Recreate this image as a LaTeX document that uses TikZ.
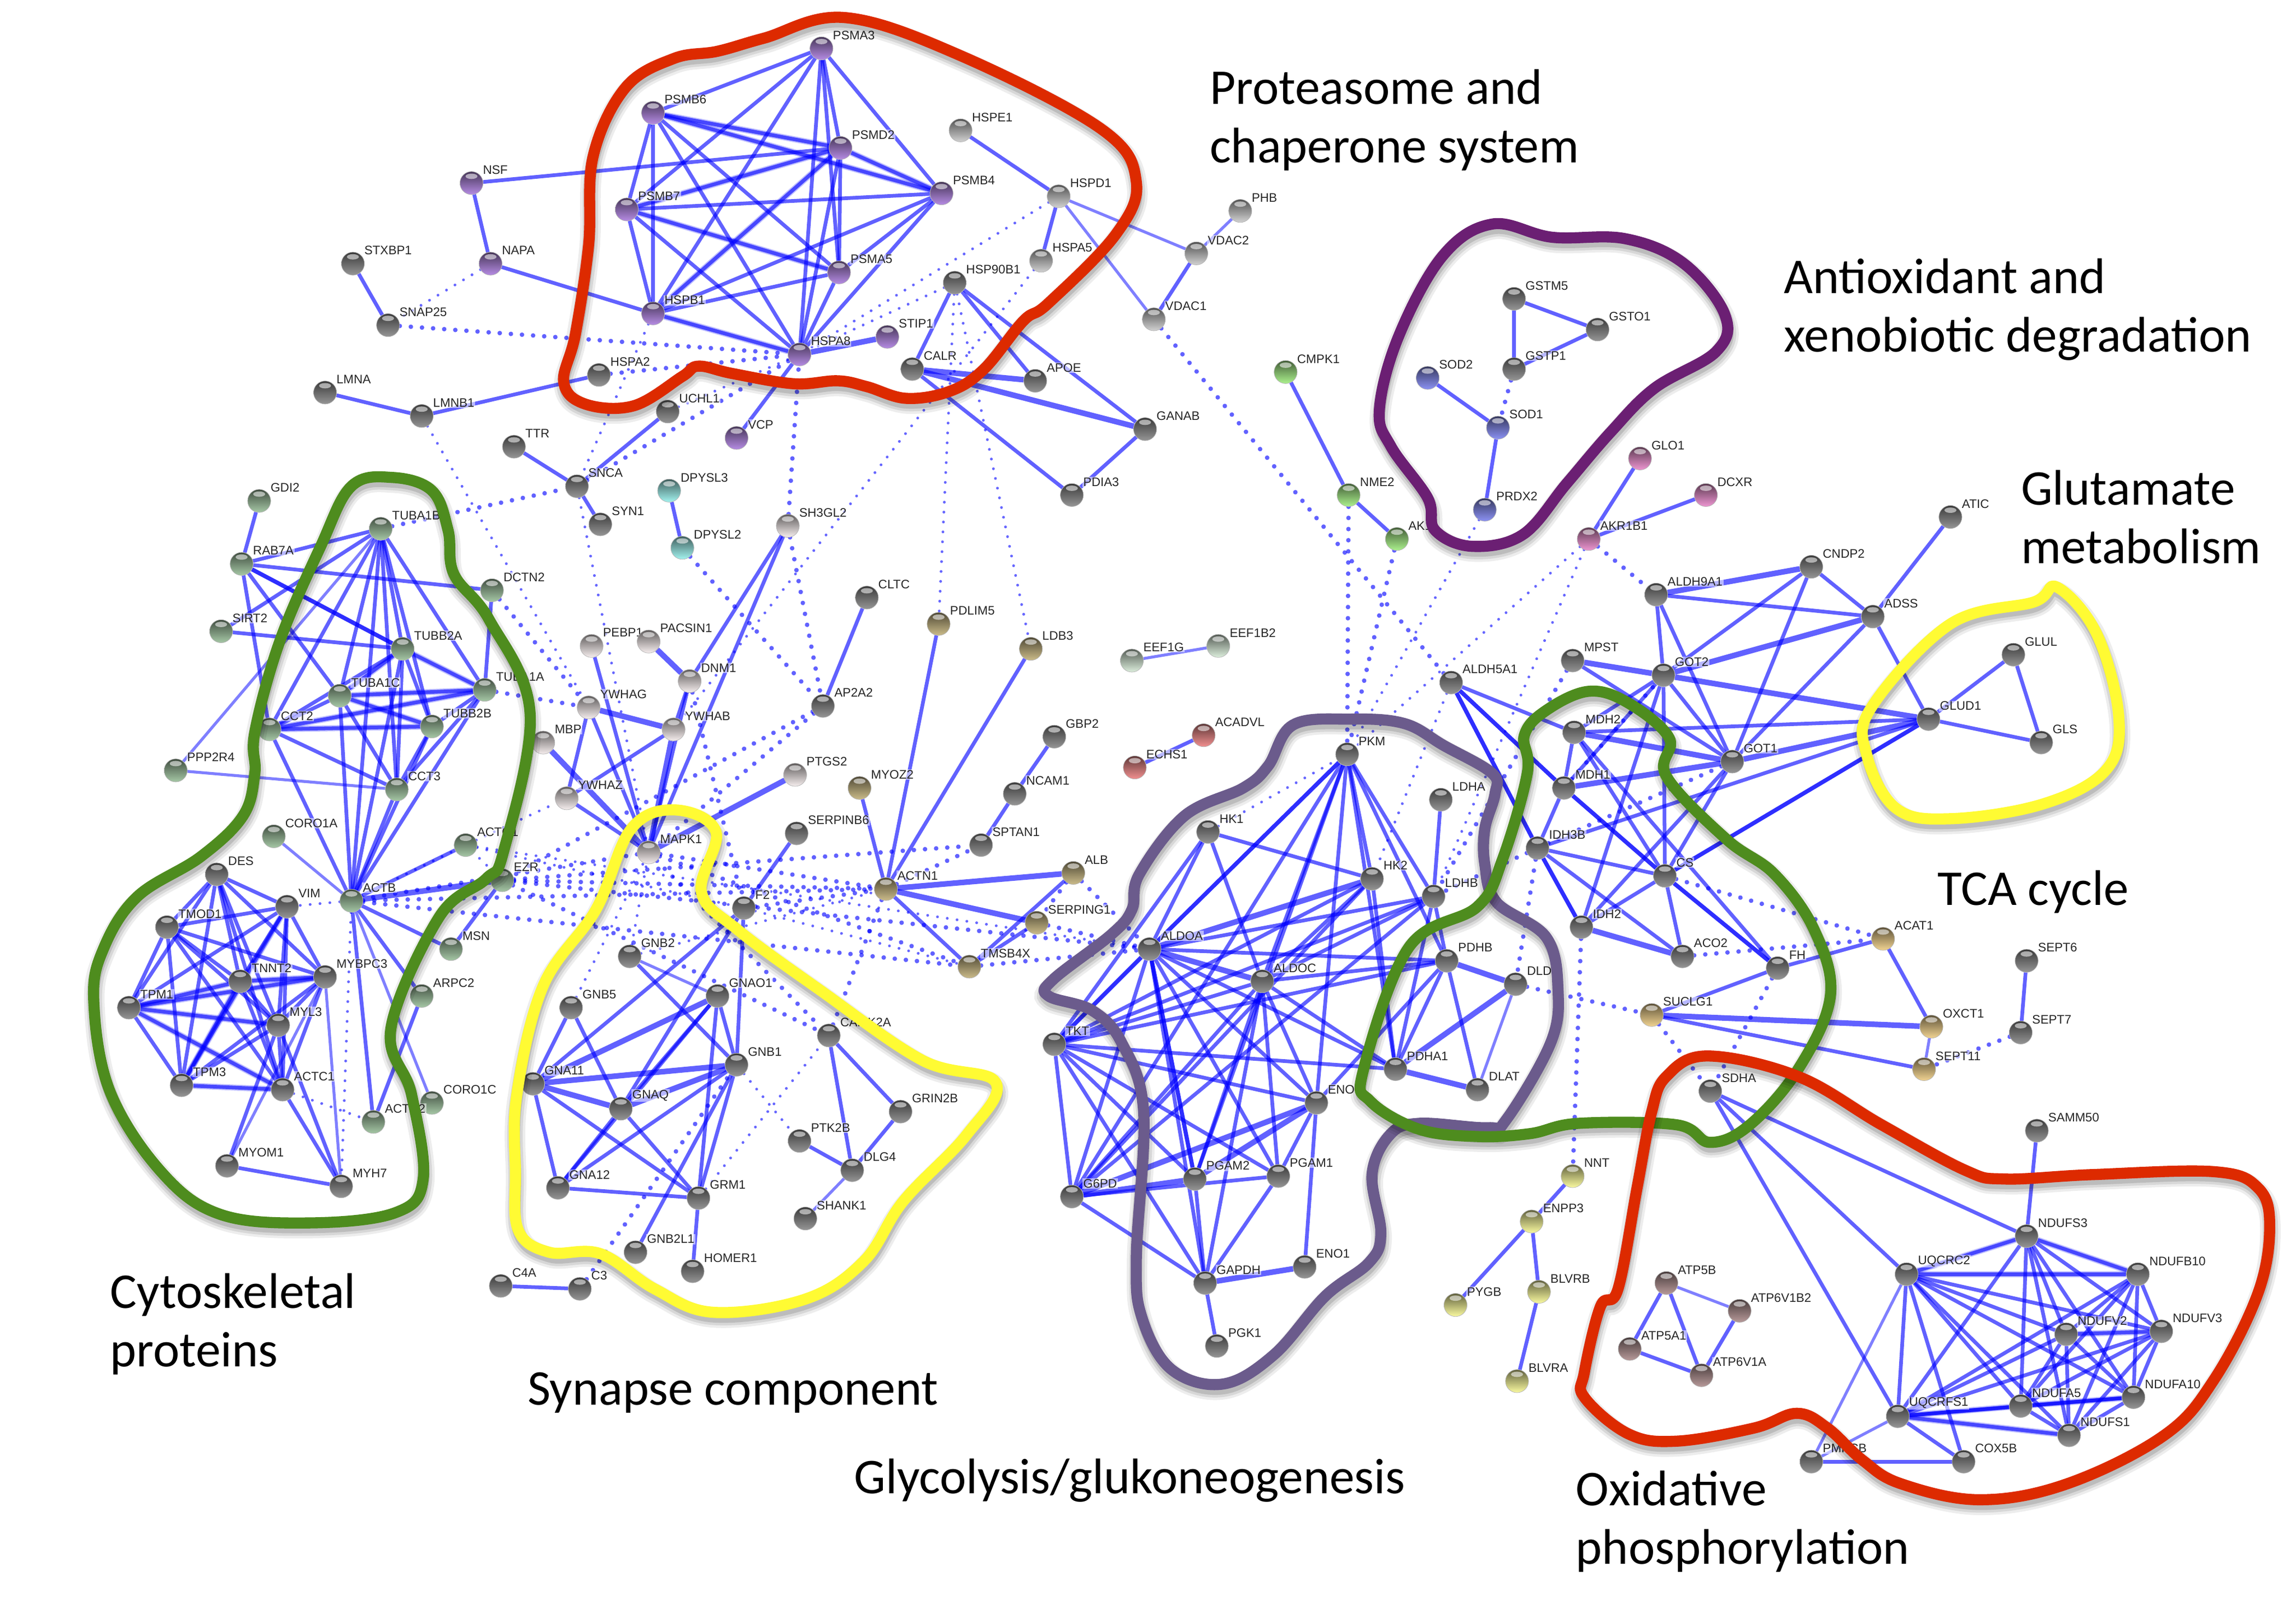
\documentclass[tikz,border=0pt]{standalone}
\usepackage{fontspec}
\setmainfont{Liberation Sans}
\newfontfamily\titlefont{Carlito}
\definecolor{cgray}{HTML}{969696}
\definecolor{clgray}{HTML}{D2D2D2}
\definecolor{cpur}{HTML}{B68CE4}
\definecolor{cgrn}{HTML}{A6C8A6}
\definecolor{cpink}{HTML}{EE96D2}
\definecolor{cblu}{HTML}{8C92F4}
\definecolor{ccy}{HTML}{A4F4F0}
\definecolor{clime}{HTML}{ACF28E}
\definecolor{cpale}{HTML}{F6EEEE}
\definecolor{ctan}{HTML}{CCBC8A}
\definecolor{cor}{HTML}{F2D492}
\definecolor{cyel}{HTML}{FAFAA0}
\definecolor{cred}{HTML}{F29090}
\definecolor{cbrn}{HTML}{B89A9A}
\definecolor{cmint}{HTML}{DCEEDC}
\definecolor{hred}{HTML}{DD2A00}
\definecolor{hgrn}{HTML}{4E8C1E}
\definecolor{hyel}{HTML}{FFFB33}
\definecolor{hpur}{HTML}{6B1F73}
\definecolor{hgly}{HTML}{6B5B8C}
\pgfdeclarelayer{edges}
\pgfdeclarelayer{hulls}
\pgfsetlayers{edges,main,hulls}
\tikzset{
  orb/.style={circle,minimum size=11.2pt,inner sep=0pt,draw=black!30,line width=.2pt,
    top color=#1!38!black,bottom color=#1,
    path picture={\fill[white,opacity=.55] ([yshift=-2.3pt]path picture bounding box.north) ellipse (2.9pt and 1.3pt);}},
  lab/.style={anchor=west,inner sep=.4pt,fill=white,fill opacity=.55,text opacity=1,text=black!85,
    font=\fontsize{6}{6.5}\selectfont},
  edgeA/.style={draw=blue,opacity=.5,line width=1.4pt},
  edgeB/.style={draw=blue,opacity=.62,line width=1.8pt},
  edgeC/.style={draw=blue,opacity=.62,line width=2.7pt},
  edgeD/.style={draw=blue,opacity=.82,line width=2pt},
  edgeO/.style={draw=blue,opacity=.26,line width=2.9pt},
  dotA/.style={draw=blue,opacity=.6,line width=1.35pt,line cap=round,dash pattern=on 0.01pt off 4.8pt},
  dotB/.style={draw=blue,opacity=.62,line width=2.2pt,line cap=round,dash pattern=on 0.01pt off 5.4pt},
  ttl/.style={anchor=west,align=left,inner sep=0pt,text=black,font=\titlefont\fontsize{24.3}{28.4}\selectfont},
  hullline/.style={line width=5.4pt,line join=round},
}
\newcommand\pn[4]{\node[orb=#4] (#1) at (#2,#3) {};\node[lab] (#1-t) at (#2+7,#3-9) {#1};}
\newcommand\ee[2]{\foreach \a/\b in {#2} \draw[#1] (\a) -- (\b);}
\newcommand\cl[2]{\foreach \a [count=\i] in {#2} {\foreach \b [count=\j] in {#2} {\ifnum\i<\j \draw[#1] (\a) -- (\b);\fi}}}
\newcommand\hull[2]{%
  \foreach \w/\o in {10pt/.07,7.5pt/.09,5pt/.12}
    \draw[black,opacity=\o,line width=\w,shift={(.5,3.5)}] plot[smooth cycle,tension=.62] coordinates {#2};
  \draw[#1,hullline] plot[smooth cycle,tension=.62] coordinates {#2};}
\begin{document}
\begin{tikzpicture}[x=0.025cm,y=-0.025cm]
\useasboundingbox (0,0) rectangle (1568,1101.3);
\begin{pgfonlayer}{edges}\fill[white] (0,0) rectangle (1568,1101.3);\end{pgfonlayer}
% --- proteasome
\pn{PSMA3}{561}{33}{cpur}\pn{PSMB6}{446}{77}{cpur}\pn{PSMD2}{574}{101}{cpur}\pn{PSMB4}{643}{132}{cpur}
\pn{PSMB7}{428}{143}{cpur}\pn{PSMA5}{573}{186}{cpur}\pn{HSPB1}{446}{214}{cpur}\pn{HSPA8}{546}{242}{cpur}
\pn{STIP1}{606}{230}{cpur}\pn{NSF}{322}{125}{cpur}\pn{NAPA}{335}{180}{cpur}\pn{VCP}{503}{299}{cpur}
\pn{HSPE1}{656}{89}{clgray}\pn{HSPD1}{723}{134}{clgray}\pn{HSPA5}{711}{178}{clgray}\pn{PHB}{847}{144}{clgray}
\pn{VDAC2}{817}{173}{clgray}\pn{VDAC1}{788}{218}{clgray}
\pn{STXBP1}{241}{180}{cgray}\pn{SNAP25}{265}{222}{cgray}\pn{HSPA2}{409}{256}{cgray}\pn{LMNA}{222}{268}{cgray}
\pn{LMNB1}{288}{284}{cgray}\pn{UCHL1}{456}{281}{cgray}\pn{TTR}{351}{305}{cgray}\pn{SNCA}{394}{332}{cgray}
\pn{SYN1}{410}{358}{cgray}\pn{DPYSL3}{457}{335}{ccy}\pn{DPYSL2}{466}{374}{ccy}
\pn{HSP90B1}{652}{193}{cgray}\pn{CALR}{623}{252}{cgray}\pn{APOE}{707}{260}{cgray}\pn{GANAB}{782}{293}{cgray}
\pn{PDIA3}{732}{338}{cgray}\pn{SH3GL2}{538}{359}{cpale}
\pn{CMPK1}{878}{254}{clime}\pn{NME2}{921}{338}{clime}\pn{AK1}{954}{368}{clime}
\pn{GSTM5}{1034}{204}{cgray}\pn{GSTO1}{1091}{225}{cgray}\pn{GSTP1}{1034}{252}{cgray}
\pn{SOD2}{975}{258}{cblu}\pn{SOD1}{1023}{292}{cblu}\pn{PRDX2}{1014}{348}{cblu}
\pn{GLO1}{1120}{313}{cpink}\pn{DCXR}{1165}{338}{cpink}\pn{AKR1B1}{1085}{368}{cpink}
% --- right metabolism
\pn{ALDH9A1}{1131}{406}{cgray}\pn{CNDP2}{1237}{387}{cgray}\pn{ATIC}{1332}{353}{cgray}\pn{ADSS}{1279}{421}{cgray}
\pn{MPST}{1074}{451}{cgray}\pn{GOT2}{1136}{461}{cgray}\pn{MDH2}{1075}{500}{cgray}\pn{MDH1}{1068}{538}{cgray}
\pn{GOT1}{1183}{520}{cgray}\pn{GLUD1}{1317}{491}{cgray}\pn{GLUL}{1375}{447}{cgray}\pn{GLS}{1394}{507}{cgray}
\pn{ALDH5A1}{991}{466}{cgray}
\pn{IDH3B}{1050}{579}{cgray}\pn{CS}{1137}{598}{cgray}\pn{IDH2}{1080}{633}{cgray}\pn{ACO2}{1149}{653}{cgray}
\pn{FH}{1214}{661}{cgray}\pn{SUCLG1}{1128}{693}{cor}\pn{ACAT1}{1286}{641}{cor}\pn{OXCT1}{1319}{701}{cor}
\pn{SEPT11}{1314}{730}{cor}\pn{SEPT6}{1384}{656}{cgray}\pn{SEPT7}{1380}{705}{cgray}
% --- glycolysis
\pn{DLD}{1035}{672}{cgray}\pn{PDHB}{988}{656}{cgray}\pn{LDHB}{979}{612}{cgray}\pn{LDHA}{984}{546}{cgray}
\pn{PKM}{920}{515}{cgray}\pn{HK1}{825}{568}{cgray}\pn{HK2}{937}{600}{cgray}\pn{ALDOA}{785}{648}{cgray}
\pn{ALDOC}{862}{670}{cgray}\pn{TKT}{720}{713}{cgray}\pn{PDHA1}{953}{730}{cgray}\pn{DLAT}{1009}{744}{cgray}
\pn{ENO3}{899}{753}{cgray}\pn{PGAM2}{816}{805}{cgray}\pn{PGAM1}{873}{803}{cgray}\pn{G6PD}{732}{817}{cgray}
\pn{GAPDH}{823}{876}{cgray}\pn{ENO1}{891}{865}{cgray}\pn{PGK1}{831}{919}{cgray}
\pn{NNT}{1074}{803}{cyel}\pn{ENPP3}{1046}{834}{cyel}\pn{BLVRB}{1051}{882}{cyel}\pn{BLVRA}{1036}{943}{cyel}\pn{PYGB}{994}{891}{cyel}
% --- oxphos
\pn{SDHA}{1168}{745}{cgray}\pn{SAMM50}{1391}{772}{cgray}\pn{NDUFS3}{1384}{844}{cgray}\pn{UQCRC2}{1302}{870}{cgray}
\pn{NDUFB10}{1460}{870}{cgray}\pn{NDUFV2}{1411}{911}{cgray}\pn{NDUFV3}{1476}{909}{cgray}\pn{UQCRFS1}{1296}{967}{cgray}
\pn{NDUFA5}{1380}{960}{cgray}\pn{NDUFA10}{1457}{954}{cgray}\pn{NDUFS1}{1413}{980}{cgray}\pn{COX5B}{1341}{998}{cgray}
\pn{PMPCB}{1237}{998}{cgray}\pn{ATP5B}{1138}{876}{cbrn}\pn{ATP6V1B2}{1188}{895}{cbrn}\pn{ATP5A1}{1113}{921}{cbrn}\pn{ATP6V1A}{1162}{939}{cbrn}
% --- cytoskeleton
\pn{GDI2}{177}{342}{cgrn}\pn{TUBA1B}{260}{361}{cgrn}\pn{RAB7A}{165}{385}{cgrn}\pn{DCTN2}{336}{403}{cgrn}
\pn{SIRT2}{151}{431}{cgrn}\pn{TUBB2A}{275}{443}{cgrn}\pn{TUBA1A}{331}{471}{cgrn}\pn{TUBA1C}{232}{475}{cgrn}
\pn{TUBB2B}{295}{496}{cgrn}\pn{CCT2}{184}{498}{cgrn}\pn{PPP2R4}{120}{526}{cgrn}\pn{CCT3}{271}{539}{cgrn}
\pn{CORO1A}{187}{571}{cgrn}\pn{ACTG1}{318}{577}{cgrn}\pn{EZR}{343}{601}{cgrn}\pn{ACTB}{240}{615}{cgrn}
\pn{MSN}{308}{648}{cgrn}\pn{ARPC2}{288}{680}{cgrn}\pn{CORO1C}{295}{753}{cgrn}\pn{ACTN2}{255}{766}{cgrn}
\pn{DES}{148}{597}{cgray}\pn{VIM}{196}{619}{cgray}\pn{TMOD1}{114}{633}{cgray}\pn{TNNT2}{164}{670}{cgray}
\pn{MYBPC3}{222}{667}{cgray}\pn{TPM1}{88}{688}{cgray}\pn{MYL3}{190}{700}{cgray}\pn{TPM3}{124}{741}{cgray}
\pn{ACTC1}{193}{744}{cgray}\pn{MYOM1}{155}{796}{cgray}\pn{MYH7}{233}{810}{cgray}
% --- centre
\pn{YWHAG}{402}{483}{cpale}\pn{PEBP1}{404}{441}{cpale}\pn{PACSIN1}{443}{438}{cpale}\pn{DNM1}{471}{465}{cpale}
\pn{MBP}{371}{507}{cpale}\pn{YWHAB}{460}{498}{cpale}\pn{YWHAZ}{387}{545}{cpale}\pn{MAPK1}{443}{582}{cpale}
\pn{PTGS2}{543}{529}{cpale}\pn{CLTC}{592}{408}{cgray}\pn{AP2A2}{562}{482}{cgray}\pn{F2}{508}{620}{cgray}
\pn{SERPINB6}{544}{569}{cgray}\pn{GNB2}{430}{653}{cgray}\pn{GNB5}{390}{688}{cgray}\pn{GNAO1}{490}{680}{cgray}
\pn{GNB1}{503}{727}{cgray}\pn{GNA11}{364}{740}{cgray}\pn{GNAQ}{424}{757}{cgray}\pn{GNA12}{381}{811}{cgray}
\pn{GRM1}{477}{818}{cgray}\pn{GNB2L1}{434}{855}{cgray}\pn{HOMER1}{473}{868}{cgray}\pn{C3}{396}{880}{cgray}
\pn{C4A}{342}{878}{cgray}\pn{CAMK2A}{566}{707}{cgray}\pn{GRIN2B}{615}{759}{cgray}\pn{PTK2B}{546}{779}{cgray}
\pn{DLG4}{582}{799}{cgray}\pn{SHANK1}{550}{832}{cgray}\pn{MYOZ2}{587}{538}{ctan}\pn{PDLIM5}{641}{426}{ctan}
\pn{LDB3}{704}{443}{ctan}\pn{ACTN1}{605}{607}{ctan}\pn{NCAM1}{693}{542}{cgray}\pn{SPTAN1}{670}{577}{cgray}
\pn{GBP2}{720}{503}{cgray}\pn{ALB}{733}{596}{ctan}\pn{SERPING1}{708}{630}{ctan}\pn{TMSB4X}{662}{660}{ctan}
\pn{EEF1G}{773}{451}{cmint}\pn{EEF1B2}{832}{441}{cmint}\pn{ECHS1}{775}{524}{cred}\pn{ACADVL}{822}{502}{cred}

\begin{pgfonlayer}{edges}
% proteasome
\cl{edgeB}{PSMA3,PSMB6,PSMD2,PSMB4,PSMB7,PSMA5,HSPB1,HSPA8}
\ee{edgeO}{PSMB6/PSMD2,PSMB6/PSMB4,PSMD2/PSMB4,PSMB7/PSMA5,HSPB1/HSPA8,HSPB1/PSMD2,PSMB7/PSMD2}
\ee{edgeC}{HSPA8/STIP1,CALR/APOE,CALR/GANAB}
\ee{edgeB}{NSF/PSMD2,NSF/NAPA,NAPA/HSPB1,STXBP1/SNAP25,LMNA/LMNB1,LMNB1/HSPA2,UCHL1/SNCA,TTR/SNCA,SNCA/SYN1,
  DPYSL3/DPYSL2,VCP/HSPA8,HSPE1/HSPD1,HSPD1/HSPA5,VDAC2/VDAC1,HSP90B1/CALR,HSP90B1/APOE,HSP90B1/GANAB,CALR/PDIA3,GANAB/PDIA3,
  CMPK1/NME2,NME2/AK1,GSTM5/GSTO1,GSTM5/GSTP1,GSTP1/GSTO1,SOD2/SOD1,SOD1/PRDX2,AKR1B1/GLO1,AKR1B1/DCXR}
\ee{edgeA}{HSPD1/VDAC2,HSPD1/VDAC1,VDAC2/PHB}
\ee{dotA}{NAPA/SNAP25,HSPB1/SNCA,HSPD1/HSPA8,UCHL1/HSPA8,LMNB1/YWHAG,SNCA/MAPK1,HSPA5/YWHAB,HSP90B1/PDLIM5,HSP90B1/LDB3,HSP90B1/HSPA8,
  PRDX2/PKM,AKR1B1/PKM,AKR1B1/LDHB,HK1/PKM,ALDH5A1/HK2}
\ee{dotB}{SNAP25/HSPA8,HSPA2/HSPA8,SNCA/HSPA8,TUBA1B/SNCA,DPYSL2/AP2A2,SH3GL2/AP2A2,SH3GL2/HSPA8,VDAC1/ALDH5A1,NME2/PKM,AK1/PKM,GSTP1/SOD1,AKR1B1/ALDH9A1,MPST/LDHB}
% glutamate / TCA
\ee{edgeB}{ATIC/ADSS,CNDP2/ADSS,ALDH9A1/ADSS,ALDH9A1/GOT2,ALDH9A1/GOT1,CNDP2/GOT2,CNDP2/GOT1,ADSS/GOT1,ADSS/GLUD1,MPST/GOT1,
  GOT2/MDH2,GOT2/MDH1,GOT2/GOT1,GOT2/CS,MDH2/GLUD1,MDH2/MDH1,MDH2/CS,MDH2/FH,MDH1/IDH3B,GOT1/IDH2,GOT1/CS,IDH3B/GLUD1,GLUD1/GLUL,GLUD1/GLS,GLUL/GLS,
  IDH3B/CS,IDH3B/ACO2,IDH2/CS,IDH2/GOT2,CS/ACO2,SUCLG1/FH,ACAT1/OXCT1,ACAT1/FH,SUCLG1/SEPT11,SEPT6/SEPT7,ALDH5A1/MDH2}
\ee{edgeC}{ALDH9A1/CNDP2,ADSS/GOT2,MPST/GOT2,GOT2/GLUD1,MDH2/GOT1,MDH1/GOT1,GOT1/GLUD1,IDH2/ACO2,SUCLG1/OXCT1}
\ee{edgeD}{MDH1/CS,CS/GLUD1,IDH3B/IDH2,CS/FH,ALDH5A1/MDH1,ALDH5A1/IDH3B}
\ee{edgeA}{OXCT1/SEPT11}
\ee{dotB}{IDH2/NNT,DLD/SUCLG1,IDH3B/DLD,FH/SDHA,SUCLG1/SDHA,GOT1/IDH3B,ACO2/ACAT1,CS/ACAT1,SEPT7/SEPT11,MDH1/GOT2,IDH3B/LDHB}
% glycolysis
\ee{edgeD}{PKM/ALDOA,ALDOA/TKT,ALDOA/PGAM2}
\ee{edgeB}{PKM/PGAM2,PKM/ALDOC,PKM/ENO3,PKM/HK2,PKM/LDHB,PKM/PDHB,PKM/G6PD,PKM/PDHA1,HK1/ALDOA,HK1/ALDOC,HK1/HK2,HK1/TKT,HK2/ALDOC,HK2/TKT,HK2/G6PD,HK2/PDHA1,
  LDHB/ALDOA,LDHB/ALDOC,LDHB/TKT,LDHB/G6PD,LDHA/LDHB,LDHB/PDHB,LDHB/PDHA1,ALDOA/G6PD,ALDOA/PGAM1,ALDOA/ENO3,ALDOA/GAPDH,ALDOA/PDHB,ALDOA/PDHA1,
  ALDOC/TKT,ALDOC/G6PD,ALDOC/PGAM2,ALDOC/PGAM1,ALDOC/ENO3,ALDOC/GAPDH,ALDOC/PDHB,ALDOC/PDHA1,TKT/G6PD,TKT/PDHA1,TKT/ENO3,TKT/PGAM2,TKT/PGAM1,TKT/GAPDH,TKT/PDHB,
  G6PD/PGAM1,G6PD/GAPDH,PGAM1/ENO3,PGAM2/GAPDH,PGAM1/GAPDH,GAPDH/PGK1,ENO1/ENO3,PDHA1/PDHB,PDHB/DLAT,PDHB/ENO3}
\ee{edgeC}{HK2/ALDOA,ALDOA/ALDOC,G6PD/ENO3,G6PD/PGAM2,PGAM2/ENO3,GAPDH/ENO1,PDHA1/DLAT,PDHA1/DLD,PDHB/DLD}
\ee{edgeA}{DLD/DLAT}
\ee{edgeB}{NNT/ENPP3,ENPP3/PYGB,ENPP3/BLVRB,BLVRB/BLVRA}
% oxphos
\cl{edgeB}{NDUFS3,UQCRC2,NDUFB10,NDUFV2,NDUFV3,UQCRFS1,NDUFA5,NDUFA10,NDUFS1}
\ee{edgeO}{UQCRFS1/NDUFA5,NDUFA5/NDUFA10,UQCRFS1/NDUFS1,UQCRC2/NDUFB10,UQCRC2/NDUFS3,NDUFV2/NDUFV3,NDUFS3/NDUFB10}
\ee{edgeB}{UQCRFS1/COX5B,UQCRC2/COX5B,PMPCB/COX5B,SDHA/UQCRFS1,SDHA/UQCRC2,SDHA/NDUFS3,NDUFS3/SAMM50,ATP5B/ATP5A1,ATP5B/ATP6V1A,ATP6V1B2/ATP6V1A,ATP5A1/ATP6V1A}
\ee{edgeA}{UQCRFS1/PMPCB,UQCRC2/PMPCB,ATP5B/ATP6V1B2}
% cytoskeleton upper
\cl{edgeB}{TUBA1B,TUBB2A,TUBA1A,TUBA1C,TUBB2B,CCT2,CCT3}
\ee{edgeO}{TUBA1C/TUBA1A,CCT2/TUBB2B,TUBA1C/TUBB2B,TUBB2A/TUBA1C,CCT2/TUBA1A,TUBB2A/TUBA1A}
\ee{edgeC}{ACTB/EZR}
\ee{edgeD}{RAB7A/TUBB2A}
\ee{edgeB}{GDI2/RAB7A,RAB7A/TUBA1B,RAB7A/DCTN2,RAB7A/TUBA1C,RAB7A/CCT2,SIRT2/TUBA1B,SIRT2/TUBB2A,DCTN2/TUBA1A,TUBA1B/ACTB,CCT2/ACTB,TUBB2B/ACTB,
  TUBA1A/ACTB,TUBA1C/ACTB,TUBB2A/ACTB,CCT3/ACTB,ACTB/ACTG1,ACTB/MSN,ACTB/ARPC2,ACTB/ACTN2,EZR/MSN,ARPC2/ACTN2}
\ee{edgeA}{PPP2R4/TUBA1B,PPP2R4/CCT3,ACTB/CORO1A,ACTB/CORO1C}
% cytoskeleton lower
\cl{edgeB}{DES,VIM,TMOD1,TNNT2,MYBPC3,TPM1,MYL3,TPM3,ACTC1}
\ee{edgeO}{TPM1/TNNT2,TPM1/MYBPC3,TNNT2/MYBPC3,TPM1/MYL3,TPM1/ACTC1,TPM3/TNNT2,TPM3/ACTC1,TPM3/VIM}
\ee{edgeB}{MYL3/MYH7,ACTC1/MYH7,MYOM1/MYH7,MYOM1/MYL3}
\ee{edgeA}{MYOM1/MYBPC3,MYBPC3/MYH7}
\ee{dotA}{ACTB/MYH7,ACTC1/ACTN2,ACTB/VIM,ACTB/ACTG1,ACTG1/YWHAZ}
% centre
\ee{edgeC}{YWHAG/YWHAB,YWHAB/MAPK1,PTGS2/MAPK1,MBP/MAPK1,PACSIN1/DNM1,ACTN1/ALB}
\ee{edgeB}{YWHAG/YWHAZ,YWHAG/MAPK1,YWHAB/YWHAZ,YWHAZ/MAPK1,DNM1/YWHAB,PEBP1/MAPK1,DNM1/MAPK1,SH3GL2/DNM1,SH3GL2/MAPK1,CLTC/AP2A2,SERPINB6/F2,
  F2/GNA11,F2/GNAQ,F2/GNB1,GNAO1/GNAQ,GNAO1/GNB1,GNAO1/GNA12,GNAO1/GRM1,GNB5/GNA11,GNB5/GNAQ,GNB1/GNA12,GNB1/GRM1,GNB1/GNB2L1,GNB2/GNB1,
  GNA11/GRM1,GNA11/GNA12,GNAQ/GNA12,GNAQ/GRM1,GNA12/GRM1,GRM1/HOMER1,CAMK2A/DLG4,CAMK2A/GRIN2B,GRIN2B/DLG4,PTK2B/DLG4,C4A/C3,
  ACTN1/MYOZ2,ACTN1/PDLIM5,ACTN1/LDB3,ACTN1/TMSB4X,ALB/TMSB4X,SERPING1/TMSB4X,NCAM1/SPTAN1,NCAM1/GBP2,ECHS1/ACADVL}
\ee{edgeC}{GNAO1/GNA11,GNB1/GNA11,GNB1/GNAQ,GNA11/GNAQ,ACTN1/SERPING1}
\ee{edgeA}{GNB2/GNAO1,DLG4/SHANK1,EEF1G/EEF1B2}
\ee{dotA}{GNB5/MAPK1,GNB2/MAPK1,GRM1/CAMK2A,GNB1/PTK2B,F2/TMSB4X,ACTG1/ALDOA,EZR/ACTG1,GNB2/ACTN1,ACTG1/F2}
\ee{dotB}{TUBA1A/YWHAG,DCTN2/YWHAG,AP2A2/EZR,AP2A2/MAPK1,DNM1/F2,C3/GNB1,F2/ACTN1,EZR/ACTN1,EZR/SPTAN1,EZR/ALDOA,EZR/CAMK2A,ACTB/TMSB4X,ACTB/ACTN1,
  ACTN1/SPTAN1,TMSB4X/ALDOA,SERPING1/ALDOA,ALB/ALDOA,ACTN1/CAMK2A,MAPK1/ACTN1,MAPK1/TMSB4X,MAPK1/CAMK2A,MAPK1/ACTB,ALB/SERPING1}
\end{pgfonlayer}

\begin{pgfonlayer}{hulls}
\hull{hred}{(522,26)(577,12)(656,38)(752,88)(776,124)(762,160)(716,207)(699,219)(672,252)(649,267)(619,272)(592,264)(572,260)(542,262)(500,255)(477,250)(466,257)(433,277)(400,276)(385,261)(393,228)(402,167)(405,107)(427,60)(460,40)(490,35)}
\hull{hpur}{(1019,153)(1060,162)(1110,163)(1150,180)(1178,215)(1172,240)(1130,265)(1100,295)(1070,330)(1040,365)(1005,373)(980,362)(975,340)(950,305)(942,280)(955,230)(985,175)}
\hull{hgrn}{(268,326)(295,335)(306,362)(310,392)(334,423)(362,487)(344,581)(332,600)(300,626)(267,702)(281,747)(289,805)(270,828)(210,835)(150,829)(110,800)(75,745)(64,683)(71,647)(94,612)(137,585)(166,557)(174,528)(174,500)(191,438)(219,373)(240,332)}
\hull{hyel}{(461,553)(489,568)(479,609)(504,635)(560,676)(630,724)(680,739)(660,775)(617,820)(590,861)(550,887)(487,896)(447,880)(410,856)(375,855)(354,840)(352,800)(353,747)(371,673)(407,621)(431,566)}
\hull{hyel}{(1405,401)(1432,433)(1447,490)(1438,526)(1395,549)(1332,559)(1295,552)(1275,516)(1278,483)(1332,426)(1389,411)}
\hull{hgly}{(883,495)(922,491)(959,494)(986,509)(1019,528)(1021,542)(1014,566)(1014,590)(1022,616)(1056,640)(1064,676)(1059,712)(1029,764)(1016,770)(969,767)(949,775)(937,802)(943,842)(935,862)(905,885)(870,925)(835,945)(800,935)(780,900)(776,859)(781,759)(766,712)(746,690)(716,680)(719,669)(759,638)(773,621)(778,597)(809,557)(849,538)(866,523)}
\hull{hgrn}{(1085,472)(1112,480)(1140,504)(1138,530)(1179,573)(1212,597)(1239,635)(1250,680)(1228,730)(1195,768)(1168,780)(1145,768)(1078,767)(1045,774)(1009,776)(969,771)(936,752)(931,731)(962,647)(1009,619)(1026,587)(1043,528)(1041,502)(1056,485)}
\hull{hred}{(1166,721)(1228,735)(1285,768)(1342,799)(1369,805)(1429,802)(1512,800)(1542,811)(1550,837)(1542,883)(1512,942)(1478,980)(1412,1013)(1352,1024)(1298,1013)(1272,997)(1248,975)(1227,965)(1198,975)(1145,984)(1112,979)(1082,954)(1082,937)(1093,892)(1105,880)(1118,811)(1128,759)(1138,735)}
\node[ttl] (tprot) at (826,82) {Proteasome and\\chaperone system};
\node[ttl] (tanti) at (1218,211.5) {Antioxidant and\\xenobiotic degradation};
\node[ttl] (tglut) at (1380,353) {Glutamate\\metabolism};
\node[ttl] (ttca) at (1323,609) {TCA cycle};
\node[ttl] (tcyto) at (75,904) {Cytoskeletal\\proteins};
\node[ttl] (tsyn) at (360,951) {Synapse component};
\node[ttl] (tgly) at (583,1011) {Glycolysis/glukoneogenesis};
\node[ttl] (toxi) at (1076,1039) {Oxidative\\phosphorylation};
\end{pgfonlayer}
\end{tikzpicture}
\end{document}
